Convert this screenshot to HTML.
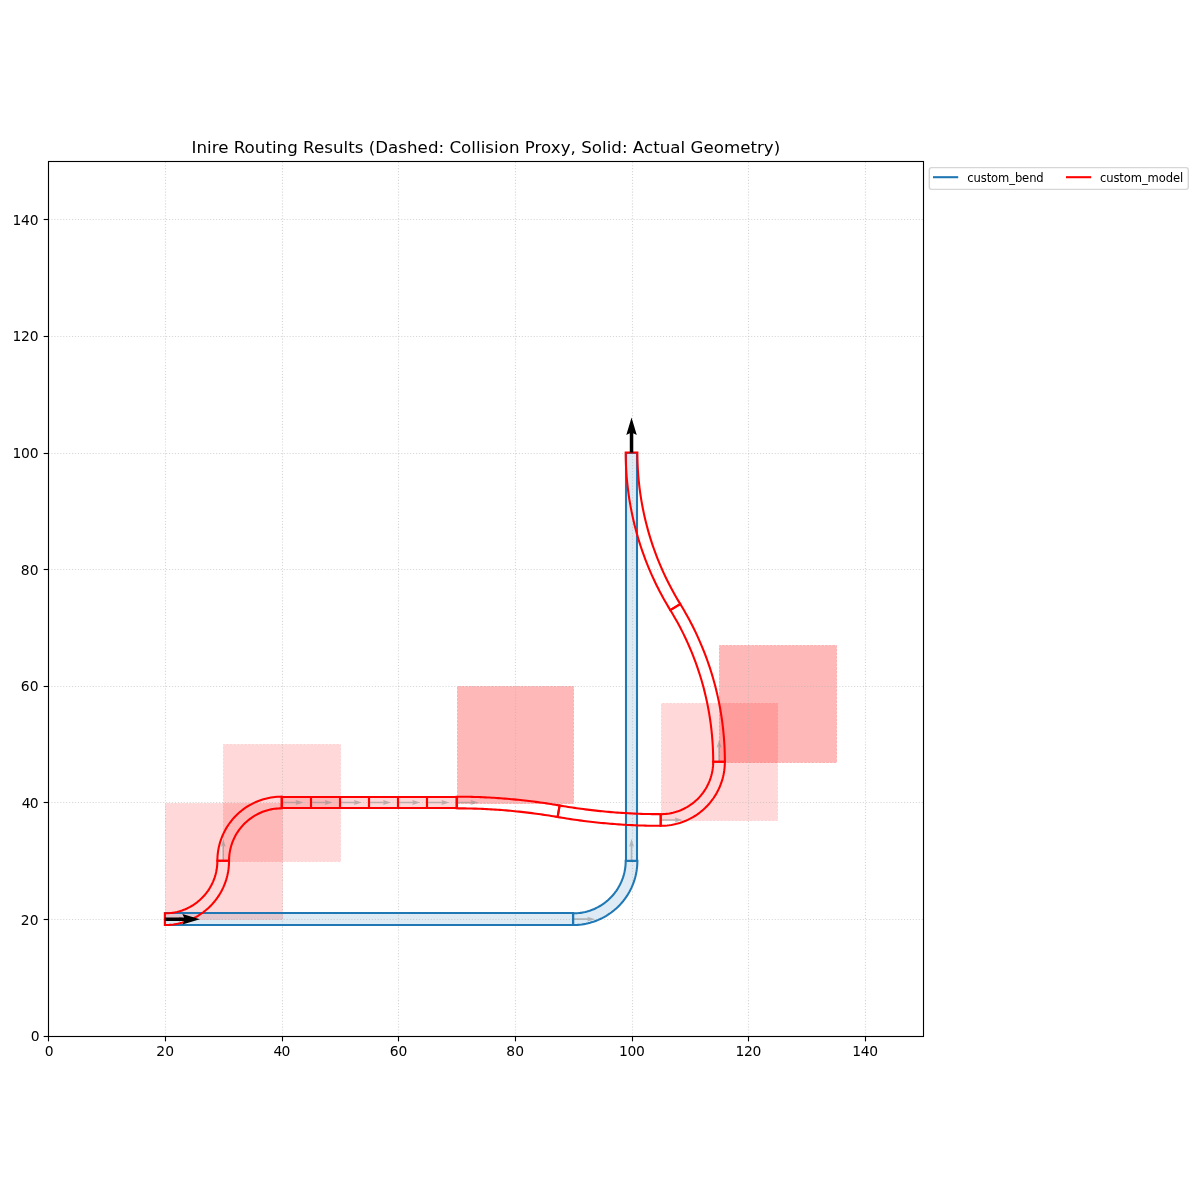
<!DOCTYPE html>
<html lang="en"><head><meta charset="utf-8"><title>Inire Routing Results</title>
<style>html,body{margin:0;padding:0;background:#fff}body{width:1200px;height:1200px;overflow:hidden}</style>
</head><body>
<svg width="1200" height="1200" viewBox="0 0 1200 1200" style="display:block;font-family:&quot;DejaVu Sans&quot;, &quot;Liberation Sans&quot;, sans-serif">
<rect x="0" y="0" width="1200" height="1200" fill="#ffffff"/>
<defs><clipPath id="axclip"><rect x="48.5" y="161.5" width="875" height="875"/></clipPath></defs>
<g clip-path="url(#axclip)">
<path d="M165.5 925.5 L573.5 925.5 L573.5 913.5 L165.5 913.5 Z" fill="#1f77b4" fill-opacity="0.15" stroke="#1f77b4" stroke-opacity="0.15" stroke-width="0.69" stroke-dasharray="2.57 1.11"/>
<path d="M573.2 925 L575.34 924.96 L577.49 924.86 L579.62 924.68 L581.75 924.43 L583.87 924.11 L585.98 923.71 L588.08 923.25 L590.15 922.72 L592.21 922.12 L594.25 921.45 L596.26 920.71 L598.25 919.91 L600.21 919.04 L602.14 918.1 L604.04 917.1 L605.9 916.04 L607.73 914.92 L609.51 913.74 L611.26 912.49 L612.97 911.19 L614.63 909.83 L616.24 908.42 L617.81 906.96 L619.32 905.44 L620.79 903.88 L622.2 902.26 L623.56 900.6 L624.86 898.9 L626.1 897.15 L627.29 895.36 L628.41 893.53 L629.47 891.67 L630.47 889.77 L631.41 887.84 L632.28 885.88 L633.08 883.9 L633.82 881.88 L634.49 879.84 L635.09 877.79 L635.62 875.71 L636.08 873.61 L636.47 871.51 L636.79 869.39 L637.04 867.26 L637.22 865.12 L637.33 862.98 L637.37 860.83 L625.7 860.83 L625.67 862.59 L625.58 864.34 L625.44 866.09 L625.23 867.83 L624.97 869.57 L624.65 871.29 L624.27 873 L623.83 874.7 L623.34 876.39 L622.8 878.05 L622.19 879.7 L621.53 881.33 L620.82 882.93 L620.06 884.51 L619.24 886.06 L618.37 887.59 L617.45 889.08 L616.48 890.55 L615.47 891.98 L614.4 893.37 L613.29 894.73 L612.14 896.05 L610.94 897.33 L609.7 898.57 L608.42 899.77 L607.1 900.93 L605.74 902.04 L604.34 903.1 L602.91 904.12 L601.45 905.09 L599.95 906 L598.43 906.87 L596.88 907.69 L595.3 908.46 L593.7 909.17 L592.07 909.83 L590.42 910.43 L588.75 910.98 L587.07 911.47 L585.37 911.9 L583.66 912.28 L581.93 912.6 L580.2 912.86 L578.46 913.07 L576.71 913.22 L574.95 913.3 L573.2 913.33 Z" fill="#1f77b4" fill-opacity="0.15" stroke="#1f77b4" stroke-opacity="0.15" stroke-width="0.69" stroke-dasharray="2.57 1.11"/>
<path d="M626.5 861.5 L637.5 861.5 L637.5 453.5 L626.5 453.5 Z" fill="#1f77b4" fill-opacity="0.15" stroke="#1f77b4" stroke-opacity="0.15" stroke-width="0.69" stroke-dasharray="2.57 1.11"/>
<path d="M165.5 919.5 L282.5 919.5 L282.5 803.5 L165.5 803.5 Z" fill="#ff0000" fill-opacity="0.15" stroke="#ff0000" stroke-opacity="0.15" stroke-width="0.69" stroke-dasharray="2.57 1.11"/>
<path d="M223.5 861.5 L340.5 861.5 L340.5 744.5 L223.5 744.5 Z" fill="#ff0000" fill-opacity="0.15" stroke="#ff0000" stroke-opacity="0.15" stroke-width="0.69" stroke-dasharray="2.57 1.11"/>
<path d="M282.5 808.5 L311.5 808.5 L311.5 797.5 L282.5 797.5 Z" fill="#ff0000" fill-opacity="0.15" stroke="#ff0000" stroke-opacity="0.15" stroke-width="0.69" stroke-dasharray="2.57 1.11"/>
<path d="M311.5 808.5 L340.5 808.5 L340.5 797.5 L311.5 797.5 Z" fill="#ff0000" fill-opacity="0.15" stroke="#ff0000" stroke-opacity="0.15" stroke-width="0.69" stroke-dasharray="2.57 1.11"/>
<path d="M340.5 808.5 L369.5 808.5 L369.5 797.5 L340.5 797.5 Z" fill="#ff0000" fill-opacity="0.15" stroke="#ff0000" stroke-opacity="0.15" stroke-width="0.69" stroke-dasharray="2.57 1.11"/>
<path d="M369.5 808.5 L398.5 808.5 L398.5 797.5 L369.5 797.5 Z" fill="#ff0000" fill-opacity="0.15" stroke="#ff0000" stroke-opacity="0.15" stroke-width="0.69" stroke-dasharray="2.57 1.11"/>
<path d="M398.5 808.5 L427.5 808.5 L427.5 797.5 L398.5 797.5 Z" fill="#ff0000" fill-opacity="0.15" stroke="#ff0000" stroke-opacity="0.15" stroke-width="0.69" stroke-dasharray="2.57 1.11"/>
<path d="M427.5 808.5 L457.5 808.5 L457.5 797.5 L427.5 797.5 Z" fill="#ff0000" fill-opacity="0.15" stroke="#ff0000" stroke-opacity="0.15" stroke-width="0.69" stroke-dasharray="2.57 1.11"/>
<path d="M457.5 803.5 L573.5 803.5 L573.5 686.5 L457.5 686.5 Z" fill="#ff0000" fill-opacity="0.15" stroke="#ff0000" stroke-opacity="0.15" stroke-width="0.69" stroke-dasharray="2.57 1.11"/>
<path d="M457.5 803.5 L573.5 803.5 L573.5 686.5 L457.5 686.5 Z" fill="#ff0000" fill-opacity="0.15" stroke="#ff0000" stroke-opacity="0.15" stroke-width="0.69" stroke-dasharray="2.57 1.11"/>
<path d="M661.5 820.5 L777.5 820.5 L777.5 703.5 L661.5 703.5 Z" fill="#ff0000" fill-opacity="0.15" stroke="#ff0000" stroke-opacity="0.15" stroke-width="0.69" stroke-dasharray="2.57 1.11"/>
<path d="M719.5 762.5 L836.5 762.5 L836.5 645.5 L719.5 645.5 Z" fill="#ff0000" fill-opacity="0.15" stroke="#ff0000" stroke-opacity="0.15" stroke-width="0.69" stroke-dasharray="2.57 1.11"/>
<path d="M719.5 762.5 L836.5 762.5 L836.5 645.5 L719.5 645.5 Z" fill="#ff0000" fill-opacity="0.15" stroke="#ff0000" stroke-opacity="0.15" stroke-width="0.69" stroke-dasharray="2.57 1.11"/>
<path d="M164.87 918.37 L179.67 918.37 L178.87 916.77 L186.87 919.17 L178.87 921.57 L179.67 919.97 L164.87 919.97 Z" fill="#808080" fill-opacity="0.5"/>
<path d="M573.2 918.37 L588 918.37 L587.2 916.77 L595.2 919.17 L587.2 921.57 L588 919.97 L573.2 919.97 Z" fill="#808080" fill-opacity="0.5"/>
<path d="M630.73 860.83 L630.73 846.03 L629.13 846.83 L631.53 838.83 L633.93 846.83 L632.33 846.03 L632.33 860.83 Z" fill="#808080" fill-opacity="0.5"/>
<path d="M164.87 918.37 L179.67 918.37 L178.87 916.77 L186.87 919.17 L178.87 921.57 L179.67 919.97 L164.87 919.97 Z" fill="#808080" fill-opacity="0.5"/>
<path d="M222.4 860.83 L222.4 846.03 L220.8 846.83 L223.2 838.83 L225.6 846.83 L224 846.03 L224 860.83 Z" fill="#808080" fill-opacity="0.5"/>
<path d="M281.53 801.7 L296.33 801.7 L295.53 800.1 L303.53 802.5 L295.53 804.9 L296.33 803.3 L281.53 803.3 Z" fill="#808080" fill-opacity="0.5"/>
<path d="M310.7 801.7 L325.5 801.7 L324.7 800.1 L332.7 802.5 L324.7 804.9 L325.5 803.3 L310.7 803.3 Z" fill="#808080" fill-opacity="0.5"/>
<path d="M339.87 801.7 L354.67 801.7 L353.87 800.1 L361.87 802.5 L353.87 804.9 L354.67 803.3 L339.87 803.3 Z" fill="#808080" fill-opacity="0.5"/>
<path d="M369.03 801.7 L383.83 801.7 L383.03 800.1 L391.03 802.5 L383.03 804.9 L383.83 803.3 L369.03 803.3 Z" fill="#808080" fill-opacity="0.5"/>
<path d="M398.2 801.7 L413 801.7 L412.2 800.1 L420.2 802.5 L412.2 804.9 L413 803.3 L398.2 803.3 Z" fill="#808080" fill-opacity="0.5"/>
<path d="M427.37 801.7 L442.17 801.7 L441.37 800.1 L449.37 802.5 L441.37 804.9 L442.17 803.3 L427.37 803.3 Z" fill="#808080" fill-opacity="0.5"/>
<path d="M456.53 801.7 L471.33 801.7 L470.53 800.1 L478.53 802.5 L470.53 804.9 L471.33 803.3 L456.53 803.3 Z" fill="#808080" fill-opacity="0.5"/>
<path d="M660.7 819.2 L675.5 819.2 L674.7 817.6 L682.7 820 L674.7 822.4 L675.5 820.8 L660.7 820.8 Z" fill="#808080" fill-opacity="0.5"/>
<path d="M718.23 761.67 L718.23 746.87 L716.63 747.67 L719.03 739.67 L721.43 747.67 L719.83 746.87 L719.83 761.67 Z" fill="#808080" fill-opacity="0.5"/>
</g>
<g stroke="#b0b0b0" stroke-opacity="0.5" stroke-width="1.11" stroke-dasharray="1.11 1.83" fill="none">
<path d="M48.5 1036.5 V161.5"/>
<path d="M165.5 1036.5 V161.5"/>
<path d="M282.5 1036.5 V161.5"/>
<path d="M398.5 1036.5 V161.5"/>
<path d="M515.5 1036.5 V161.5"/>
<path d="M632.5 1036.5 V161.5"/>
<path d="M748.5 1036.5 V161.5"/>
<path d="M865.5 1036.5 V161.5"/>
<path d="M48.5 1036.5 H923.5"/>
<path d="M48.5 919.5 H923.5"/>
<path d="M48.5 802.5 H923.5"/>
<path d="M48.5 686.5 H923.5"/>
<path d="M48.5 569.5 H923.5"/>
<path d="M48.5 453.5 H923.5"/>
<path d="M48.5 336.5 H923.5"/>
<path d="M48.5 219.5 H923.5"/>
</g>
<g clip-path="url(#axclip)" fill="none" stroke-width="2.08" stroke-linejoin="miter">
<path d="M165 925 L573 925 L573 913 L165 913 Z" stroke="#1f77b4"/>
<path d="M573.2 925 L575.34 924.96 L577.49 924.86 L579.62 924.68 L581.75 924.43 L583.87 924.11 L585.98 923.71 L588.08 923.25 L590.15 922.72 L592.21 922.12 L594.25 921.45 L596.26 920.71 L598.25 919.91 L600.21 919.04 L602.14 918.1 L604.04 917.1 L605.9 916.04 L607.73 914.92 L609.51 913.74 L611.26 912.49 L612.97 911.19 L614.63 909.83 L616.24 908.42 L617.81 906.96 L619.32 905.44 L620.79 903.88 L622.2 902.26 L623.56 900.6 L624.86 898.9 L626.1 897.15 L627.29 895.36 L628.41 893.53 L629.47 891.67 L630.47 889.77 L631.41 887.84 L632.28 885.88 L633.08 883.9 L633.82 881.88 L634.49 879.84 L635.09 877.79 L635.62 875.71 L636.08 873.61 L636.47 871.51 L636.79 869.39 L637.04 867.26 L637.22 865.12 L637.33 862.98 L637.37 860.83 L625.7 860.83 L625.67 862.59 L625.58 864.34 L625.44 866.09 L625.23 867.83 L624.97 869.57 L624.65 871.29 L624.27 873 L623.83 874.7 L623.34 876.39 L622.8 878.05 L622.19 879.7 L621.53 881.33 L620.82 882.93 L620.06 884.51 L619.24 886.06 L618.37 887.59 L617.45 889.08 L616.48 890.55 L615.47 891.98 L614.4 893.37 L613.29 894.73 L612.14 896.05 L610.94 897.33 L609.7 898.57 L608.42 899.77 L607.1 900.93 L605.74 902.04 L604.34 903.1 L602.91 904.12 L601.45 905.09 L599.95 906 L598.43 906.87 L596.88 907.69 L595.3 908.46 L593.7 909.17 L592.07 909.83 L590.42 910.43 L588.75 910.98 L587.07 911.47 L585.37 911.9 L583.66 912.28 L581.93 912.6 L580.2 912.86 L578.46 913.07 L576.71 913.22 L574.95 913.3 L573.2 913.33 Z" stroke="#1f77b4"/>
<path d="M626 861 L637 861 L637 453 L626 453 Z" stroke="#1f77b4"/>
<path d="M164.87 925 L167.01 924.96 L169.15 924.86 L171.29 924.68 L173.42 924.43 L175.54 924.11 L177.65 923.71 L179.74 923.25 L181.82 922.72 L183.88 922.12 L185.91 921.45 L187.93 920.71 L189.92 919.91 L191.88 919.04 L193.81 918.1 L195.7 917.1 L197.57 916.04 L199.39 914.92 L201.18 913.74 L202.93 912.49 L204.63 911.19 L206.29 909.83 L207.91 908.42 L209.47 906.96 L210.99 905.44 L212.46 903.88 L213.87 902.26 L215.22 900.6 L216.53 898.9 L217.77 897.15 L218.95 895.36 L220.08 893.53 L221.14 891.67 L222.14 889.77 L223.07 887.84 L223.94 885.88 L224.75 883.9 L225.48 881.88 L226.15 879.84 L226.75 877.79 L227.29 875.71 L227.75 873.61 L228.14 871.51 L228.46 869.39 L228.71 867.26 L228.89 865.12 L229 862.98 L229.03 860.83 L217.37 860.83 L217.34 862.59 L217.25 864.34 L217.1 866.09 L216.9 867.83 L216.64 869.57 L216.31 871.29 L215.94 873 L215.5 874.7 L215.01 876.39 L214.46 878.05 L213.86 879.7 L213.2 881.33 L212.49 882.93 L211.72 884.51 L210.91 886.06 L210.04 887.59 L209.12 889.08 L208.15 890.55 L207.13 891.98 L206.07 893.37 L204.96 894.73 L203.8 896.05 L202.6 897.33 L201.36 898.57 L200.08 899.77 L198.76 900.93 L197.4 902.04 L196.01 903.1 L194.58 904.12 L193.12 905.09 L191.62 906 L190.1 906.87 L188.54 907.69 L186.97 908.46 L185.36 909.17 L183.74 909.83 L182.09 910.43 L180.42 910.98 L178.74 911.47 L177.04 911.9 L175.32 912.28 L173.6 912.6 L171.86 912.86 L170.12 913.07 L168.37 913.22 L166.62 913.3 L164.87 913.33 Z" stroke="#ff0000"/>
<path d="M217.37 860.83 L217.4 858.69 L217.51 856.55 L217.69 854.41 L217.94 852.28 L218.26 850.16 L218.65 848.05 L219.11 845.96 L219.65 843.88 L220.25 841.82 L220.92 839.79 L221.65 837.77 L222.46 835.78 L223.33 833.82 L224.26 831.89 L225.26 830 L226.32 828.13 L227.45 826.31 L228.63 824.52 L229.87 822.77 L231.18 821.07 L232.53 819.41 L233.94 817.79 L235.41 816.23 L236.93 814.71 L238.49 813.24 L240.11 811.83 L241.77 810.48 L243.47 809.17 L245.22 807.93 L247.01 806.75 L248.83 805.62 L250.7 804.56 L252.59 803.56 L254.52 802.63 L256.48 801.76 L258.47 800.95 L260.49 800.22 L262.52 799.55 L264.58 798.95 L266.66 798.41 L268.75 797.95 L270.86 797.56 L272.98 797.24 L275.11 796.99 L277.25 796.81 L279.39 796.7 L281.53 796.67 L281.53 808.33 L279.78 808.36 L278.03 808.45 L276.28 808.6 L274.54 808.8 L272.8 809.06 L271.08 809.39 L269.36 809.76 L267.66 810.2 L265.98 810.69 L264.31 811.24 L262.66 811.84 L261.04 812.5 L259.43 813.21 L257.86 813.98 L256.3 814.79 L254.78 815.66 L253.28 816.58 L251.82 817.55 L250.39 818.57 L249 819.63 L247.64 820.74 L246.32 821.9 L245.04 823.1 L243.8 824.34 L242.6 825.62 L241.44 826.94 L240.33 828.3 L239.27 829.69 L238.25 831.12 L237.28 832.58 L236.36 834.08 L235.49 835.6 L234.68 837.16 L233.91 838.73 L233.2 840.34 L232.54 841.96 L231.94 843.61 L231.39 845.28 L230.9 846.96 L230.46 848.66 L230.09 850.38 L229.76 852.1 L229.5 853.84 L229.3 855.58 L229.15 857.33 L229.06 859.08 L229.03 860.83 Z" stroke="#ff0000"/>
<path d="M282 808 L311 808 L311 797 L282 797 Z" stroke="#ff0000"/>
<path d="M311 808 L340 808 L340 797 L311 797 Z" stroke="#ff0000"/>
<path d="M340 808 L369 808 L369 797 L340 797 Z" stroke="#ff0000"/>
<path d="M369 808 L398 808 L398 797 L369 797 Z" stroke="#ff0000"/>
<path d="M398 808 L427 808 L427 797 L398 797 Z" stroke="#ff0000"/>
<path d="M427 808 L457 808 L457 797 L427 797 Z" stroke="#ff0000"/>
<path d="M456.53 796.67 L458.74 796.67 L460.94 796.68 L463.14 796.7 L465.35 796.73 L467.55 796.77 L469.76 796.81 L471.96 796.86 L474.16 796.92 L476.36 796.99 L478.57 797.07 L480.77 797.15 L482.97 797.24 L485.17 797.34 L487.37 797.45 L489.57 797.57 L491.77 797.69 L493.97 797.83 L496.17 797.97 L498.37 798.11 L500.57 798.27 L502.77 798.43 L504.97 798.61 L507.16 798.79 L509.36 798.97 L511.55 799.17 L513.75 799.38 L515.94 799.59 L518.13 799.81 L520.33 800.04 L522.52 800.27 L524.71 800.52 L526.9 800.77 L529.09 801.03 L531.27 801.3 L533.46 801.57 L535.64 801.86 L537.83 802.15 L540.01 802.45 L542.19 802.75 L544.38 803.07 L546.56 803.39 L548.73 803.73 L550.91 804.06 L553.09 804.41 L555.26 804.77 L557.44 805.13 L559.61 805.5 L557.62 817 L555.49 816.63 L553.36 816.28 L551.23 815.93 L549.09 815.59 L546.96 815.26 L544.82 814.93 L542.68 814.61 L540.54 814.3 L538.4 814 L536.26 813.71 L534.12 813.42 L531.98 813.14 L529.83 812.87 L527.69 812.61 L525.54 812.36 L523.39 812.11 L521.25 811.87 L519.1 811.64 L516.95 811.41 L514.8 811.2 L512.65 810.99 L510.49 810.79 L508.34 810.6 L506.19 810.41 L504.03 810.24 L501.88 810.07 L499.72 809.91 L497.57 809.75 L495.41 809.61 L493.25 809.47 L491.1 809.34 L488.94 809.22 L486.78 809.1 L484.62 809 L482.46 808.9 L480.3 808.81 L478.14 808.73 L475.98 808.65 L473.82 808.59 L471.66 808.53 L469.5 808.47 L467.34 808.43 L465.18 808.4 L463.02 808.37 L460.86 808.35 L458.69 808.34 L456.53 808.33 Z" stroke="#ff0000"/>
<path d="M557.62 817 L559.8 817.37 L561.97 817.73 L564.15 818.09 L566.32 818.44 L568.5 818.77 L570.68 819.11 L572.86 819.43 L575.04 819.75 L577.22 820.05 L579.4 820.35 L581.59 820.64 L583.77 820.93 L585.96 821.2 L588.15 821.47 L590.34 821.73 L592.53 821.98 L594.72 822.23 L596.91 822.46 L599.1 822.69 L601.29 822.91 L603.49 823.13 L605.68 823.33 L607.88 823.53 L610.07 823.71 L612.27 823.89 L614.46 824.07 L616.66 824.23 L618.86 824.39 L621.06 824.53 L623.26 824.68 L625.46 824.81 L627.66 824.93 L629.86 825.05 L632.06 825.16 L634.26 825.26 L636.46 825.35 L638.67 825.43 L640.87 825.51 L643.07 825.58 L645.27 825.64 L647.48 825.69 L649.68 825.73 L651.88 825.77 L654.09 825.8 L656.29 825.82 L658.5 825.83 L660.7 825.83 L660.7 814.17 L658.54 814.16 L656.38 814.15 L654.22 814.13 L652.05 814.1 L649.89 814.07 L647.73 814.03 L645.57 813.97 L643.41 813.92 L641.25 813.85 L639.09 813.77 L636.93 813.69 L634.77 813.6 L632.61 813.5 L630.45 813.4 L628.3 813.28 L626.14 813.16 L623.98 813.03 L621.82 812.89 L619.67 812.75 L617.51 812.59 L615.36 812.43 L613.2 812.26 L611.05 812.09 L608.89 811.9 L606.74 811.71 L604.59 811.51 L602.44 811.3 L600.29 811.09 L598.14 810.86 L595.99 810.63 L593.84 810.39 L591.69 810.14 L589.55 809.89 L587.4 809.63 L585.26 809.36 L583.11 809.08 L580.97 808.79 L578.83 808.5 L576.69 808.2 L574.55 807.89 L572.41 807.57 L570.27 807.24 L568.14 806.91 L566 806.57 L563.87 806.22 L561.74 805.87 L559.61 805.5 Z" stroke="#ff0000"/>
<path d="M660.7 825.83 L662.84 825.8 L664.99 825.69 L667.12 825.51 L669.25 825.26 L671.37 824.94 L673.48 824.55 L675.58 824.09 L677.65 823.55 L679.71 822.95 L681.75 822.28 L683.76 821.55 L685.75 820.74 L687.71 819.87 L689.64 818.94 L691.54 817.94 L693.4 816.88 L695.23 815.75 L697.01 814.57 L698.76 813.33 L700.47 812.02 L702.13 810.67 L703.74 809.26 L705.31 807.79 L706.82 806.27 L708.29 804.71 L709.7 803.09 L711.06 801.43 L712.36 799.73 L713.6 797.98 L714.79 796.19 L715.91 794.37 L716.97 792.5 L717.97 790.61 L718.91 788.68 L719.78 786.72 L720.58 784.73 L721.32 782.71 L721.99 780.68 L722.59 778.62 L723.12 776.54 L723.58 774.45 L723.97 772.34 L724.29 770.22 L724.54 768.09 L724.72 765.95 L724.83 763.81 L724.87 761.67 L713.2 761.67 L713.17 763.42 L713.08 765.17 L712.94 766.92 L712.73 768.66 L712.47 770.4 L712.15 772.12 L711.77 773.84 L711.33 775.54 L710.84 777.22 L710.3 778.89 L709.69 780.54 L709.03 782.16 L708.32 783.77 L707.56 785.34 L706.74 786.9 L705.87 788.42 L704.95 789.92 L703.98 791.38 L702.97 792.81 L701.9 794.2 L700.79 795.56 L699.64 796.88 L698.44 798.16 L697.2 799.4 L695.92 800.6 L694.6 801.76 L693.24 802.87 L691.84 803.93 L690.41 804.95 L688.95 805.92 L687.45 806.84 L685.93 807.71 L684.38 808.52 L682.8 809.29 L681.2 810 L679.57 810.66 L677.92 811.26 L676.25 811.81 L674.57 812.3 L672.87 812.74 L671.16 813.11 L669.43 813.44 L667.7 813.7 L665.96 813.9 L664.21 814.05 L662.45 814.14 L660.7 814.17 Z" stroke="#ff0000"/>
<path d="M724.87 761.67 L724.85 758.14 L724.78 754.61 L724.68 751.08 L724.54 747.55 L724.35 744.02 L724.12 740.5 L723.85 736.98 L723.54 733.47 L723.19 729.95 L722.8 726.44 L722.36 722.94 L721.89 719.44 L721.37 715.95 L720.82 712.46 L720.22 708.98 L719.58 705.51 L718.9 702.05 L718.18 698.59 L717.42 695.14 L716.62 691.71 L715.78 688.28 L714.9 684.86 L713.97 681.45 L713.01 678.05 L712.01 674.67 L710.97 671.29 L709.89 667.93 L708.77 664.59 L707.61 661.25 L706.41 657.93 L705.18 654.62 L703.9 651.33 L702.59 648.06 L701.23 644.79 L699.84 641.55 L698.41 638.32 L696.95 635.11 L695.44 631.92 L693.9 628.74 L692.32 625.58 L690.71 622.44 L689.06 619.32 L687.37 616.22 L685.64 613.14 L683.88 610.08 L682.08 607.04 L680.25 604.03 L670.32 610.14 L672.08 613.04 L673.8 615.96 L675.5 618.9 L677.15 621.86 L678.78 624.84 L680.37 627.84 L681.92 630.86 L683.44 633.9 L684.92 636.95 L686.36 640.02 L687.77 643.1 L689.15 646.21 L690.48 649.33 L691.78 652.46 L693.05 655.61 L694.27 658.78 L695.46 661.95 L696.61 665.15 L697.73 668.35 L698.8 671.57 L699.84 674.8 L700.84 678.04 L701.81 681.3 L702.73 684.56 L703.62 687.84 L704.46 691.12 L705.27 694.42 L706.04 697.72 L706.77 701.04 L707.46 704.36 L708.12 707.69 L708.73 711.03 L709.31 714.37 L709.84 717.72 L710.34 721.08 L710.79 724.44 L711.21 727.81 L711.59 731.18 L711.93 734.56 L712.22 737.94 L712.48 741.32 L712.7 744.71 L712.88 748.1 L713.02 751.49 L713.12 754.88 L713.18 758.27 L713.2 761.67 Z" stroke="#ff0000"/>
<path d="M670.32 610.14 L668.48 607.12 L666.69 604.08 L664.92 601.02 L663.2 597.94 L661.51 594.84 L659.86 591.72 L658.24 588.59 L656.66 585.43 L655.12 582.25 L653.62 579.06 L652.15 575.85 L650.72 572.62 L649.33 569.37 L647.98 566.11 L646.67 562.84 L645.39 559.54 L644.15 556.24 L642.96 552.92 L641.8 549.58 L640.68 546.23 L639.6 542.87 L638.56 539.5 L637.55 536.11 L636.59 532.72 L635.67 529.31 L634.79 525.89 L633.95 522.46 L633.15 519.02 L632.39 515.58 L631.67 512.12 L630.99 508.65 L630.35 505.18 L629.75 501.7 L629.19 498.22 L628.68 494.72 L628.2 491.23 L627.77 487.72 L627.38 484.21 L627.02 480.7 L626.71 477.18 L626.45 473.66 L626.22 470.14 L626.03 466.62 L625.89 463.09 L625.78 459.56 L625.72 456.03 L625.7 452.5 L637.37 452.5 L637.39 455.89 L637.45 459.29 L637.55 462.68 L637.69 466.07 L637.86 469.46 L638.08 472.84 L638.34 476.23 L638.64 479.61 L638.98 482.98 L639.36 486.36 L639.77 489.72 L640.23 493.09 L640.73 496.44 L641.26 499.79 L641.84 503.14 L642.45 506.48 L643.1 509.81 L643.79 513.13 L644.53 516.44 L645.3 519.75 L646.1 523.04 L646.95 526.33 L647.84 529.61 L648.76 532.87 L649.72 536.12 L650.72 539.37 L651.76 542.6 L652.84 545.82 L653.95 549.02 L655.1 552.21 L656.29 555.39 L657.52 558.56 L658.78 561.71 L660.08 564.84 L661.42 567.96 L662.79 571.06 L664.2 574.15 L665.65 577.22 L667.13 580.27 L668.65 583.31 L670.2 586.32 L671.79 589.32 L673.41 592.3 L675.07 595.26 L676.76 598.2 L678.49 601.13 L680.25 604.03 Z" stroke="#ff0000"/>
</g>
<path d="M164.87 917.42 L184.12 917.42 L182.37 913.92 L199.87 919.17 L182.37 924.42 L184.12 920.92 L164.87 920.92 Z" fill="#000000"/>
<path d="M629.78 452.5 L629.78 433.25 L626.28 435 L631.53 417.5 L636.78 435 L633.28 433.25 L633.28 452.5 Z" fill="#000000"/>
<rect x="48.5" y="161.5" width="875" height="875" fill="none" stroke="#000" stroke-width="1.11"/>
<g stroke="#000" stroke-width="1.11">
<path d="M48.5 1036.5 v4.86"/>
<path d="M48.5 1036.5 h-4.86"/>
<path d="M165.5 1036.5 v4.86"/>
<path d="M48.5 919.5 h-4.86"/>
<path d="M282.5 1036.5 v4.86"/>
<path d="M48.5 802.5 h-4.86"/>
<path d="M398.5 1036.5 v4.86"/>
<path d="M48.5 686.5 h-4.86"/>
<path d="M515.5 1036.5 v4.86"/>
<path d="M48.5 569.5 h-4.86"/>
<path d="M632.5 1036.5 v4.86"/>
<path d="M48.5 453.5 h-4.86"/>
<path d="M748.5 1036.5 v4.86"/>
<path d="M48.5 336.5 h-4.86"/>
<path d="M865.5 1036.5 v4.86"/>
<path d="M48.5 219.5 h-4.86"/>
</g>
<g font-size="13.89px" fill="#000">
<text x="44.79" y="1056">0</text>
<text x="156.34 165.17" y="1056">20</text>
<text x="273.46 281.38" y="1056">40</text>
<text x="389.67 398.5" y="1056">60</text>
<text x="506.34 515.17" y="1056">80</text>
<text x="618.89 627.42 635.95" y="1056">100</text>
<text x="735.56 744.09 752.61" y="1056">120</text>
<text x="852.22 860.75 869.28" y="1056">140</text>
<text x="30.75" y="1041">0</text>
<text x="20.82 29.65" y="925">20</text>
<text x="21.72 29.65" y="808">40</text>
<text x="20.82 29.65" y="691">60</text>
<text x="20.82 29.65" y="575">80</text>
<text x="12.6 21.12 29.65" y="458">100</text>
<text x="12.6 21.12 29.65" y="341">120</text>
<text x="12.6 21.12 29.65" y="225">140</text>
</g>
<text x="191.5" y="153.2" textLength="588.75" lengthAdjust="spacing" font-size="16.67px" fill="#000">Inire Routing Results (Dashed: Collision Proxy, Solid: Actual Geometry)</text>
<rect x="929.3" y="167.6" width="259" height="21.8" rx="2.3" ry="2.3" fill="#ffffff" fill-opacity="0.8" stroke="#cccccc" stroke-opacity="0.8" stroke-width="1.39"/>
<path d="M933 177.2 H958.2" stroke="#1f77b4" stroke-width="2.08"/>
<text x="967.3" y="181.6" textLength="76.4" lengthAdjust="spacing" font-size="11.57px" fill="#000">custom_bend</text>
<path d="M1066 177.2 H1091.2" stroke="#ff0000" stroke-width="2.08"/>
<text x="1100" y="181.6" textLength="83.1" lengthAdjust="spacing" font-size="11.57px" fill="#000">custom_model</text>
</svg>
</body></html>
